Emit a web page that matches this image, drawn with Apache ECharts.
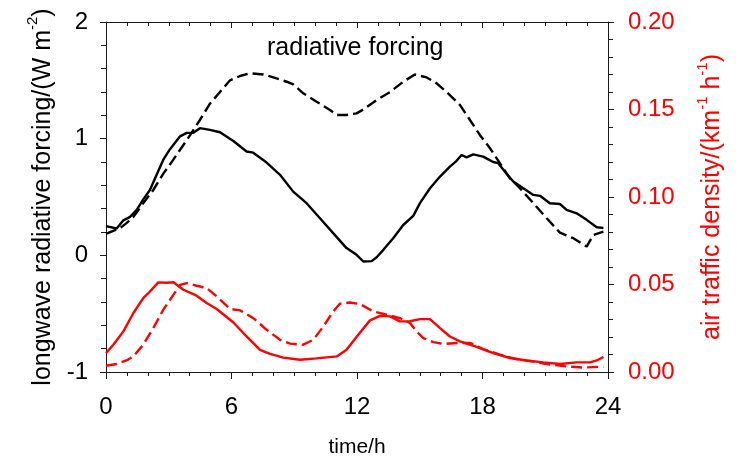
<!DOCTYPE html>
<html>
<head>
<meta charset="utf-8">
<script src="https://cdn.jsdelivr.net/npm/echarts@6/dist/echarts.min.js"></script>
<style>
html,body{margin:0;padding:0;background:#fff;}
#chart{width:736px;height:460px;}
</style>
</head>
<body>
<div id="chart"></div>
<script>
// ---- data ----
var xTicks = [0, 6, 12, 18, 24];
var leftTicks = [-1, 0, 1, 2];
var rightTicks = [0.00, 0.05, 0.10, 0.15, 0.20];

// longwave radiative forcing, solid black (left axis)
var rfSolidHours = [0, 0.51, 0.83, 1.15, 1.47, 1.78, 2.1, 2.42, 2.74, 3.06, 3.54, 3.86, 4.18, 4.49, 4.97, 5.45, 6.09, 6.72, 7.04, 7.68, 8.32, 8.95, 9.59, 10.23, 10.86, 11.5, 11.98, 12.3, 12.7, 12.94, 13.26, 13.73, 14.21, 14.69, 15.01, 15.49, 15.97, 16.44, 16.76, 17.0, 17.24, 17.56, 18.03, 18.51, 18.75, 19.15, 19.47, 19.95, 20.43, 20.75, 21.22, 21.7, 22.02, 22.5, 22.98, 23.46, 23.78];
var rfSolidValues = [0.25, 0.23, 0.30, 0.33, 0.39, 0.48, 0.56, 0.69, 0.82, 0.91, 1.02, 1.05, 1.05, 1.09, 1.075, 1.055, 0.98, 0.89, 0.88, 0.795, 0.69, 0.546, 0.447, 0.318, 0.19, 0.062, 0.004, -0.053, -0.05, -0.016, 0.047, 0.147, 0.26, 0.338, 0.447, 0.575, 0.675, 0.76, 0.81, 0.86, 0.84, 0.866, 0.846, 0.80, 0.79, 0.70, 0.632, 0.575, 0.518, 0.51, 0.447, 0.44, 0.39, 0.36, 0.304, 0.241, 0.235];

// longwave radiative forcing, dashed black (left axis)
var rfDashHours = [0, 0.67, 0.98, 1.31, 1.78, 2.26, 2.74, 3.22, 3.7, 4.02, 4.49, 4.97, 5.45, 5.93, 6.41, 6.88, 7.52, 8.0, 8.64, 8.95, 9.43, 10.07, 10.71, 11.03, 11.5, 11.98, 12.3, 12.94, 13.58, 14.21, 14.77, 15.33, 15.81, 16.44, 16.92, 17.4, 17.88, 18.36, 18.83, 19.31, 19.79, 20.43, 21.07, 21.7, 22.34, 22.98, 23.3, 23.78];
var rfDashValues = [0.184, 0.233, 0.276, 0.33, 0.447, 0.56, 0.70, 0.82, 0.946, 1.03, 1.16, 1.30, 1.40, 1.50, 1.537, 1.56, 1.55, 1.525, 1.488, 1.465, 1.389, 1.317, 1.246, 1.203, 1.203, 1.217, 1.25, 1.331, 1.40, 1.488, 1.55, 1.525, 1.474, 1.374, 1.289, 1.16, 1.03, 0.918, 0.79, 0.66, 0.575, 0.447, 0.318, 0.195, 0.147, 0.075, 0.175, 0.204];

// air traffic density, solid red (right axis)
var atSolidHours = [0, 0.35, 0.83, 1.31, 1.78, 2.1, 2.5, 2.9, 3.22, 3.7, 4.33, 4.81, 5.29, 6.09, 6.72, 7.36, 7.84, 8.48, 9.27, 10.07, 11.03, 11.5, 12.06, 12.62, 13.1, 13.58, 14.05, 14.53, 15.01, 15.49, 15.97, 16.44, 16.92, 17.72, 18.51, 19.31, 20.11, 20.9, 21.7, 22.5, 23.14, 23.46, 23.78];
var atSolidValues = [0.0108, 0.0156, 0.0232, 0.0337, 0.0422, 0.046, 0.0512, 0.051, 0.0513, 0.047, 0.0436, 0.0394, 0.036, 0.0283, 0.0203, 0.0127, 0.0104, 0.0082, 0.007, 0.0078, 0.0089, 0.0127, 0.0213, 0.0295, 0.0321, 0.0318, 0.0289, 0.029, 0.0302, 0.0302, 0.0251, 0.0203, 0.0175, 0.0143, 0.0108, 0.008, 0.0066, 0.0055, 0.0046, 0.0055, 0.0055, 0.0066, 0.0086];

// air traffic density, dashed red (right axis)
var atDashHours = [0, 0.51, 0.98, 1.31, 1.78, 2.26, 2.74, 3.22, 3.54, 3.86, 4.33, 4.81, 5.29, 5.93, 6.41, 7.04, 7.68, 8.32, 8.8, 9.43, 9.91, 10.39, 10.86, 11.18, 11.66, 12.14, 12.78, 13.42, 14.05, 14.53, 14.85, 15.17, 15.65, 16.13, 16.77, 17.4, 18.03, 18.83, 19.63, 20.43, 21.22, 22.02, 22.82, 23.61, 23.78];
var atDashValues = [0.0036, 0.0046, 0.0066, 0.0089, 0.0156, 0.0251, 0.0356, 0.0441, 0.0498, 0.0508, 0.0493, 0.048, 0.0432, 0.0361, 0.0352, 0.0308, 0.0241, 0.0184, 0.0162, 0.0156, 0.0184, 0.026, 0.0346, 0.039, 0.0397, 0.0388, 0.0346, 0.0327, 0.0308, 0.028, 0.0232, 0.0194, 0.0171, 0.016, 0.0166, 0.0166, 0.0131, 0.0099, 0.0074, 0.0059, 0.0043, 0.0032, 0.0025, 0.003, 0.003];

var titleText = 'radiative forcing';
var xName = 'time/h';

function pairs(xs, ys) { return xs.map(function (x, i) { return [x, ys[i]]; }); }

var FONT = '"Liberation Sans", Arial, sans-serif';
var AXIS_COLOR = '#1a1a1a';
var RED = '#ff0000';

var chart = echarts.init(document.getElementById('chart'), null, {renderer: 'canvas'});
var option = {
  backgroundColor: '#ffffff',
  animation: false,
  textStyle: {fontFamily: FONT},
  title: {
    text: titleText, left: 262, top: 31,
    textStyle: {fontFamily: FONT, fontSize: 25, fontWeight: 'normal', color: '#000'}
  },
  grid: {left: 106, right: 128, top: 22, bottom: 88, containLabel: false, outerBoundsMode: 'none'},
  xAxis: [{
    type: 'value', position: 'bottom', min: xTicks[0], max: xTicks[xTicks.length - 1], interval: 6,
    name: xName, nameLocation: 'middle', nameGap: 65,
    nameTextStyle: {fontFamily: FONT, fontSize: 21, color: '#000'},
    axisLine: {show: true, onZero: false, lineStyle: {color: AXIS_COLOR, width: 1}},
    axisTick: {show: true, inside: false, length: 7, lineStyle: {color: AXIS_COLOR}},
    minorTick: {show: true, splitNumber: 6, length: 4, lineStyle: {color: AXIS_COLOR}},
    axisLabel: {margin: 23, fontFamily: FONT, fontSize: 24, color: '#000'},
    splitLine: {show: false}
  }, {
    type: 'value', position: 'top', min: xTicks[0], max: xTicks[xTicks.length - 1], interval: 6,
    axisLine: {show: true, onZero: false, lineStyle: {color: AXIS_COLOR, width: 1}},
    axisTick: {show: true, inside: true, length: 6, lineStyle: {color: AXIS_COLOR}},
    minorTick: {show: true, splitNumber: 6, length: 4, lineStyle: {color: AXIS_COLOR}},
    axisLabel: {show: false},
    splitLine: {show: false}
  }],
  yAxis: [{
    type: 'value', position: 'left', min: leftTicks[0], max: leftTicks[leftTicks.length - 1], interval: 1,
    name: '{a|longwave radiative forcing/(W m}{s|-2}{a|)}',
    nameLocation: 'middle', nameGap: 46, nameRotate: 90,
    nameTextStyle: {
      fontFamily: FONT, color: '#000',
      rich: {
        a: {fontFamily: FONT, fontSize: 25, color: '#000', lineHeight: 30, verticalAlign: 'bottom'},
        s: {fontFamily: FONT, fontSize: 15, color: '#000', lineHeight: 30, verticalAlign: 'top'}
      }
    },
    axisLine: {show: true, onZero: false, lineStyle: {color: AXIS_COLOR, width: 1}},
    axisTick: {show: true, inside: false, length: 6, lineStyle: {color: AXIS_COLOR}},
    minorTick: {show: true, splitNumber: 5, length: 5, lineStyle: {color: AXIS_COLOR}},
    axisLabel: {margin: 18, fontFamily: FONT, fontSize: 24, color: '#000'},
    splitLine: {show: false}
  }, {
    type: 'value', position: 'right', min: rightTicks[0], max: rightTicks[rightTicks.length - 1], interval: 0.05,
    name: '{a|air traffic density/(km}{s|-1}{a| h}{s|-1}{a|)}',
    nameLocation: 'middle', nameGap: 87, nameRotate: 90,
    nameTextStyle: {
      fontFamily: FONT, color: RED,
      rich: {
        a: {fontFamily: FONT, fontSize: 25, color: RED, lineHeight: 30, verticalAlign: 'bottom'},
        s: {fontFamily: FONT, fontSize: 15, color: RED, lineHeight: 30, verticalAlign: 'top'}
      }
    },
    axisLine: {show: true, onZero: false, lineStyle: {color: AXIS_COLOR, width: 1}},
    axisTick: {show: true, inside: false, length: 6, lineStyle: {color: AXIS_COLOR}},
    minorTick: {show: true, splitNumber: 5, length: 5, lineStyle: {color: AXIS_COLOR}},
    axisLabel: {margin: 20, fontFamily: FONT, fontSize: 24, color: RED,
      formatter: function (v) { return v.toFixed(2); }},
    splitLine: {show: false}
  }],
  series: [{
    type: 'line', xAxisIndex: 0, yAxisIndex: 0, data: pairs(rfSolidHours, rfSolidValues),
    showSymbol: false, symbol: 'none', lineStyle: {color: '#000', width: 2.4, type: 'solid'}
  }, {
    type: 'line', xAxisIndex: 0, yAxisIndex: 0, data: pairs(rfDashHours, rfDashValues),
    showSymbol: false, symbol: 'none', lineStyle: {color: '#000', width: 2.4, type: [11, 5]}
  }, {
    type: 'line', xAxisIndex: 0, yAxisIndex: 1, data: pairs(atSolidHours, atSolidValues),
    showSymbol: false, symbol: 'none', lineStyle: {color: RED, width: 2.4, type: 'solid'}
  }, {
    type: 'line', xAxisIndex: 0, yAxisIndex: 1, data: pairs(atDashHours, atDashValues),
    showSymbol: false, symbol: 'none', lineStyle: {color: RED, width: 2.4, type: [11, 5]}
  }]
};
chart.setOption(option);
</script>
</body>
</html>
